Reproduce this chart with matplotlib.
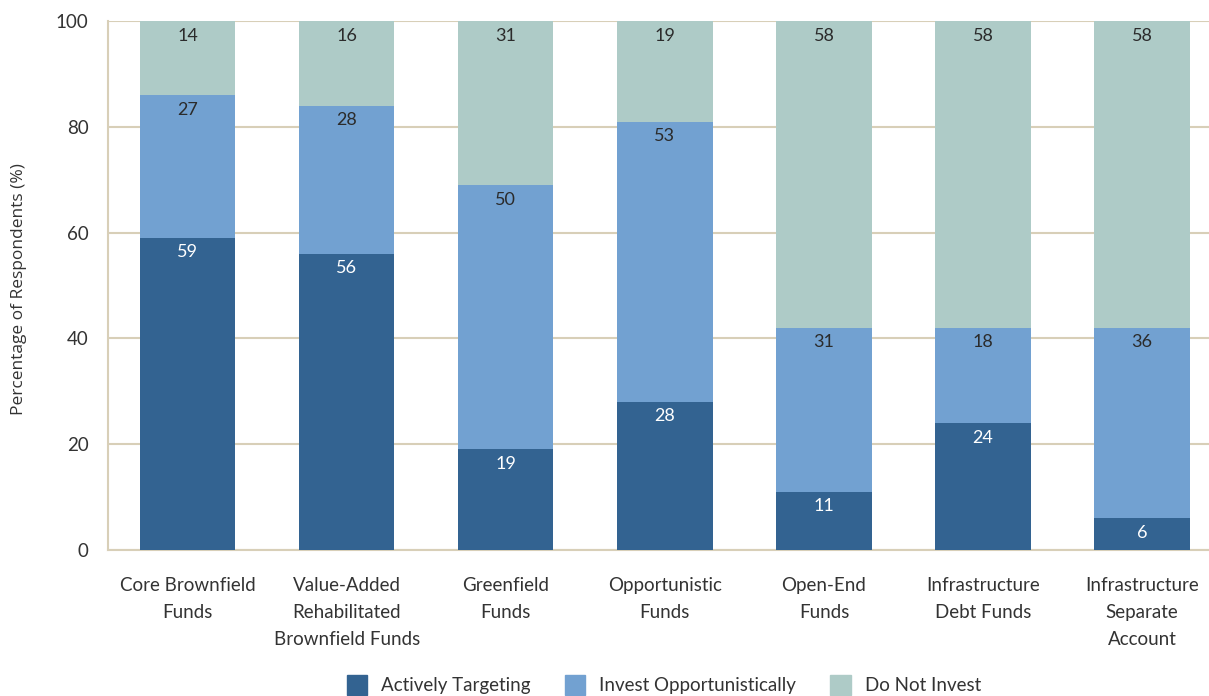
import matplotlib.pyplot as plt
from matplotlib.patches import Patch

plt.rcParams['font.family'] = ['Lato', 'DejaVu Sans']

categories = ['Core Brownfield\nFunds', 'Value-Added\nRehabilitated\nBrownfield Funds',
              'Greenfield\nFunds', 'Opportunistic\nFunds', 'Open-End\nFunds',
              'Infrastructure\nDebt Funds', 'Infrastructure\nSeparate\nAccount']
actively = [59, 56, 19, 28, 11, 24, 6]
opportun = [27, 28, 50, 53, 31, 18, 36]
not_invest = [14, 16, 31, 19, 58, 58, 58]
series_names = ['Actively Targeting', 'Invest Opportunistically', 'Do Not Invest']

colors = ['#336391', '#72a1d1', '#aecbc7']
text_colors = ['white', '#2b2b2b', '#2b2b2b']
grid_col = '#d8cfb8'
txt = '#333333'

fig = plt.figure(figsize=(12.09, 6.96), dpi=100)
ax = fig.add_axes([108 / 1209, 146 / 696, 1 - 108 / 1209, 529 / 696])

x = list(range(len(categories)))
bottom = [0] * len(categories)
for vals, col, tcol in zip([actively, opportun, not_invest], colors, text_colors):
    bars = ax.bar(x, vals, width=0.6, bottom=bottom, color=col, zorder=3)
    for xi, b, v in zip(x, bottom, vals):
        ax.annotate(str(v), (xi, b + v), xytext=(0, -10.5), textcoords='offset points',
                    ha='center', va='center', fontsize=13, color=tcol, zorder=4)
    bottom = [b + v for b, v in zip(bottom, vals)]

ax.set_xlim(-0.5, 6.42)
ax.set_ylim(0, 100)
ax.set_yticks([0, 20, 40, 60, 80, 100])
ax.yaxis.grid(True, color=grid_col, linewidth=1.5, zorder=0)
ax.set_xticks(x)
ax.set_xticklabels(categories, fontsize=13.5, color=txt, linespacing=1.7)
ax.tick_params(axis='both', length=0, labelsize=13.5, colors=txt)
ax.tick_params(axis='x', pad=19.5)
ax.tick_params(axis='y', pad=14)
for s in ['top', 'right']:
    ax.spines[s].set_visible(False)
for s in ['left', 'bottom']:
    ax.spines[s].set_color(grid_col)
    ax.spines[s].set_linewidth(1.5)

fig.text(19 / 1209, 1 - 289 / 696, 'Percentage of Respondents (%)', rotation=90,
         ha='center', va='center', fontsize=12.5, color=txt, family=['Open Sans', 'DejaVu Sans'])

handles = [Patch(color=c, label=n) for c, n in zip(colors, series_names)]
fig.legend(handles=handles, loc='center', bbox_to_anchor=(0.549, 0.016), ncol=3,
           frameon=False, fontsize=13.5, handlelength=1.1, handleheight=1.3,
           columnspacing=1.8, handletextpad=0.75, labelcolor=txt)

fig.savefig('out.png', dpi=100)
